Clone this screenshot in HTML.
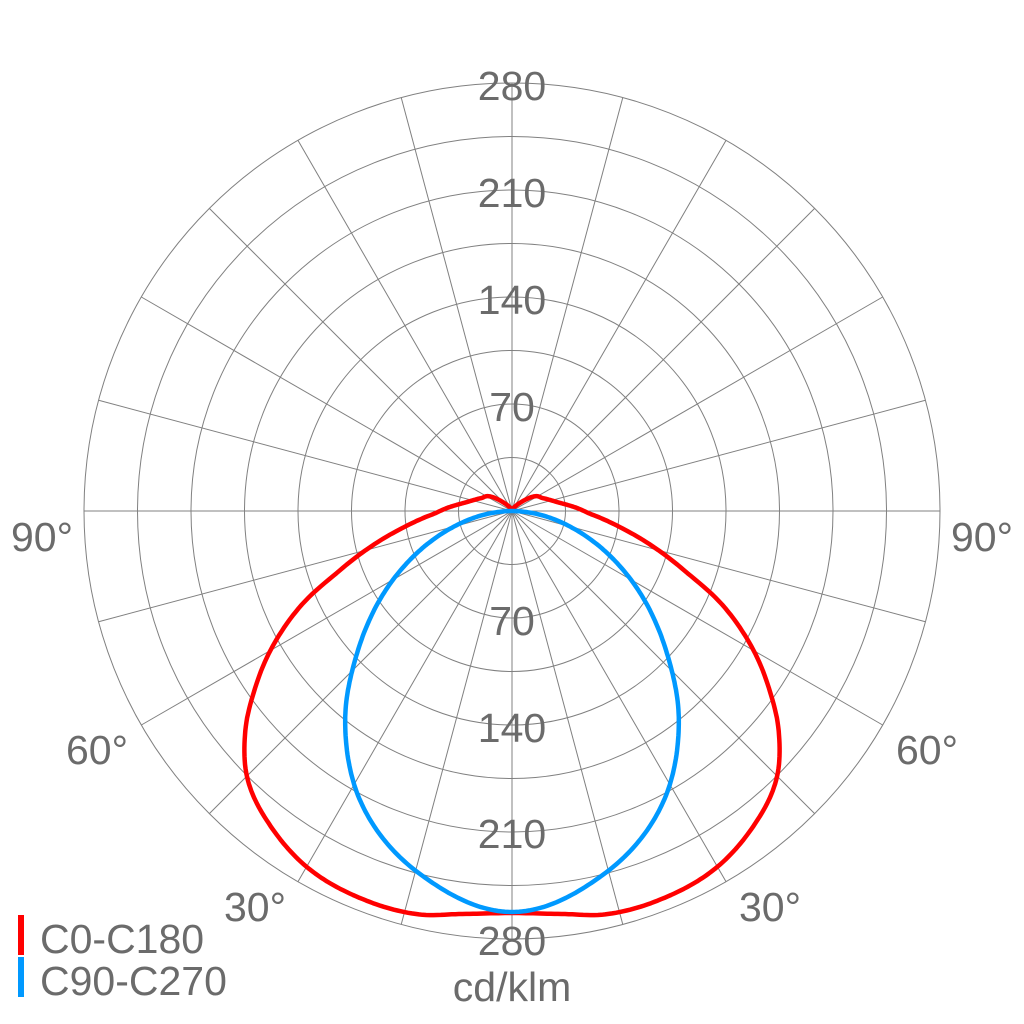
<!DOCTYPE html>
<html><head><meta charset="utf-8"><style>
html,body{margin:0;padding:0;background:#fff;}
svg{display:block;}
text{font-family:"Liberation Sans",Arial,sans-serif;fill:#6b6b6b;font-size:41px;}
</style></head><body>
<svg id="s" width="1024" height="1024" viewBox="0 0 1024 1024" xmlns="http://www.w3.org/2000/svg">
<g id="grid" stroke="#808080" stroke-width="1" fill="none"></g>
<path id="red" fill="none" stroke="#ff0000" stroke-width="4.5" stroke-linejoin="round"/>
<path id="blue" fill="none" stroke="#0099ff" stroke-width="4.5" stroke-linejoin="round"/>
<g text-anchor="middle">
<text x="512" y="100">280</text>
<text x="512" y="207">210</text>
<text x="512" y="314">140</text>
<text x="512" y="421">70</text>
<text x="512" y="635">70</text>
<text x="512" y="742">140</text>
<text x="512" y="848">210</text>
<text x="512" y="955">280</text>
<text x="512" y="1001">cd/klm</text>
<text x="42" y="551">90°</text>
<text x="982" y="551">90°</text>
<text x="97" y="764">60°</text>
<text x="927" y="764">60°</text>
<text x="255" y="921">30°</text>
<text x="770" y="921">30°</text>
</g>
<rect x="18" y="915" width="6" height="40" fill="#ff0000"/>
<rect x="18" y="957" width="6" height="40" fill="#0099ff"/>
<text x="40" y="953">C0-C180</text>
<text x="40" y="995">C90-C270</text>
</svg>
<script>
var cx=512,cy=511,R=428,ns="http://www.w3.org/2000/svg",g=document.getElementById("grid");
for(var i=1;i<=8;i++){var c=document.createElementNS(ns,"circle");c.setAttribute("cx",cx);c.setAttribute("cy",cy);c.setAttribute("r",R*i/8);g.appendChild(c);}
for(var a=0;a<360;a+=15){var t=a*Math.PI/180,l=document.createElementNS(ns,"line");l.setAttribute("x1",cx);l.setAttribute("y1",cy);l.setAttribute("x2",cx+R*Math.sin(t));l.setAttribute("y2",cy+R*Math.cos(t));g.appendChild(l);}
function interp(p,th){
 for(var i=0;i<p.length-1;i++){if(th<=p[i+1][0]){
  var p0=i>0?p[i-1]:[-p[1][0],p[1][1]],p1=p[i],p2=p[i+1],p3=p[Math.min(i+2,p.length-1)];
  var u=(th-p1[0])/(p2[0]-p1[0]);
  var m1=(p2[1]-p0[1])/(p2[0]-p0[0]||1)*(p2[0]-p1[0]);
  var m2=(p3[1]-p1[1])/(p3[0]-p1[0]||1)*(p2[0]-p1[0]);
  var u2=u*u,u3=u2*u;
  return (2*u3-3*u2+1)*p1[1]+(u3-2*u2+u)*m1+(-2*u3+3*u2)*p2[1]+(u3-u2)*m2;}}
 return p[p.length-1][1];}
function build(p,max){
 var pts=[];
 for(var th=-max;th<=max+0.01;th+=0.5){var a=Math.abs(th),r=Math.max(0,interp(p,a)),t=th*Math.PI/180;pts.push((cx+r*Math.sin(t)).toFixed(1)+","+(cy+r*Math.cos(t)).toFixed(1));}
 return "M"+pts.join("L");}
var red=[[0,402],[7,406],[13,414],[20,416],[29,412],[37,398],[44.5,377],[50.6,345],[55,315],[60,279],[66,230],[71,182],[80,118],[87,82],[90,72],[100,48],[112,34],[122,28],[135,12],[150,4],[180,0]];
var blue=[[0,401],[14.4,374],[27,330],[38.5,268],[47.5,210],[56,160],[65,110],[75,60],[85,18],[90,0]];
document.getElementById("red").setAttribute("d",build(red,180));
document.getElementById("blue").setAttribute("d",build(blue,90));
</script>
</body></html>
